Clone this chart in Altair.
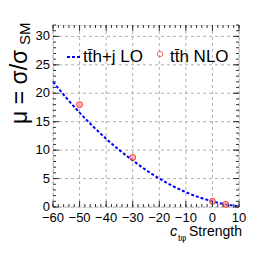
import altair as alt
import pandas as pd

# LO curve
lo_c = [-60, -55, -50, -45, -40, -35, -30, -25, -20, -15, -10, -5, 0, 5, 10]
lo_mu = [22.0, 19.2, 16.6, 14.2, 12.0, 10.0, 8.2, 6.5, 5.0, 3.7, 2.6, 1.7, 1.0, 0.45, 0.1]
# NLO points
nlo_c = [-50, -30, 0, 5]
nlo_mu = [18.0, 8.7, 1.0, 0.47]

x_major = [-60, -50, -40, -30, -20, -10, 0, 10]
x_labels = ["\u221260", "\u221250", "\u221240", "\u221230", "\u221220", "\u221210", "0", "10"]
x_minor = [-60, -58, -56, -54, -52, -50, -48, -46, -44, -42, -40, -38, -36, -34, -32, -30,
           -28, -26, -24, -22, -20, -18, -16, -14, -12, -10, -8, -6, -4, -2, 0, 2, 4, 6, 8, 10]
y_major = [0, 5, 10, 15, 20, 25, 30]
y_labels = ["0", "5", "10", "15", "20", "25", "30"]
y_minor = [0, 1, 2, 3, 4, 5, 6, 7, 8, 9, 10, 11, 12, 13, 14, 15, 16, 17, 18, 19, 20,
           21, 22, 23, 24, 25, 26, 27, 28, 29, 30, 31, 32]

W, H = 186, 182
FONT = "Liberation Sans"

xs = alt.Scale(domain=[-60, 10], nice=False, zero=False)
ys = alt.Scale(domain=[0, 32], nice=False)

lo = pd.DataFrame({"c": lo_c, "mu": lo_mu})
nlo = pd.DataFrame({"c": nlo_c, "mu": nlo_mu})
xl = pd.DataFrame({"v": x_major, "t": x_labels})
yl = pd.DataFrame({"v": y_major, "t": y_labels})

grid_col = "#b0b0b0"
xgrid = alt.Chart(xl).mark_rule(color=grid_col, strokeDash=[3, 3], strokeWidth=1).encode(
    x=alt.X("v:Q", scale=xs, axis=None), y=alt.value(0), y2=alt.value(H))
ygrid = alt.Chart(yl).mark_rule(color=grid_col, strokeDash=[3, 3], strokeWidth=1).encode(
    y=alt.Y("v:Q", scale=ys, axis=None), x=alt.value(0), x2=alt.value(W))

xlab = alt.Chart(xl).mark_text(font=FONT, fontSize=13, color="black", baseline="top",
                               align="center").encode(
    x=alt.X("v:Q", scale=xs, axis=None), y=alt.value(H + 5), text="t:N")
ylab = alt.Chart(yl).mark_text(font=FONT, fontSize=13, color="black", baseline="middle",
                               align="right").encode(
    y=alt.Y("v:Q", scale=ys, axis=None), x=alt.value(-3), text="t:N")

line = alt.Chart(lo).mark_line(color="#0000ff", strokeDash=[3, 2], strokeWidth=2,
                               interpolate="monotone").encode(
    x=alt.X("c:Q", scale=xs, axis=None), y=alt.Y("mu:Q", scale=ys, axis=None))

pts = alt.Chart(nlo).mark_point(shape="circle", size=35, color="#ff3030",
                                fill="#ff9090", fillOpacity=0.6, strokeWidth=1).encode(
    x=alt.X("c:Q", scale=xs, axis=None), y=alt.Y("mu:Q", scale=ys, axis=None))

tick_col = "#333333"
def xticks(vals, L):
    d = pd.DataFrame({"v": vals})
    b = alt.Chart(d).mark_rule(color=tick_col, strokeWidth=1)
    return (b.encode(x=alt.X("v:Q", scale=xs, axis=None), y=alt.value(H), y2=alt.value(H - L)) +
            b.encode(x=alt.X("v:Q", scale=xs, axis=None), y=alt.value(0), y2=alt.value(L)))

def yticks(vals, L):
    d = pd.DataFrame({"v": vals})
    b = alt.Chart(d).mark_rule(color=tick_col, strokeWidth=1)
    return (b.encode(y=alt.Y("v:Q", scale=ys, axis=None), x=alt.value(0), x2=alt.value(L)) +
            b.encode(y=alt.Y("v:Q", scale=ys, axis=None), x=alt.value(W), x2=alt.value(W - L)))

ticks = xticks(x_major, 6) + xticks(x_minor, 3) + yticks(y_major, 6) + yticks(y_minor, 3)

one = pd.DataFrame({"a": [0]})
def txt(s, x, y, size, **kw):
    return alt.Chart(one).mark_text(text=s, font=FONT, fontSize=size, color="black", **kw).encode(
        x=alt.value(x), y=alt.value(y))

leg_line = alt.Chart(one).mark_rule(color="#0000ff", strokeDash=[3, 2], strokeWidth=2).encode(
    x=alt.value(14), x2=alt.value(29), y=alt.value(32))
leg_pt = alt.Chart(one).mark_point(shape="circle", size=30, color="#ff3030", strokeWidth=1).encode(
    x=alt.value(107), y=alt.value(29))

texts = (
    txt("tt\u0304h+j LO", 30, 37, 17, align="left", baseline="alphabetic") +
    txt("tt\u0304h NLO", 117, 37, 17, align="left", baseline="alphabetic") +
    txt("Strength", 136, 211, 14, align="left", baseline="alphabetic") +
    txt("c", 117, 211, 14.5, align="left", baseline="alphabetic", fontStyle="italic") +
    txt("t\u03c6", 125, 216, 9, align="left", baseline="alphabetic") +
    txt("\u03bc = \u03c3/\u03c3", -26, 99, 23, align="left", baseline="alphabetic", angle=270) +
    txt("SM", -23, 20, 15, align="left", baseline="alphabetic", angle=270)
)

chart = alt.layer(xgrid, ygrid, line, pts, ticks, xlab, ylab, leg_line, leg_pt, texts).properties(
    width=W, height=H,
    autosize=alt.AutoSizeParams(type="none"),
    padding={"left": 45, "top": 17, "right": 19, "bottom": 44},
).configure_view(stroke="#444444", strokeWidth=1).configure(background="white")

chart.save("out.html", embed_options={"renderer": "svg", "actions": False})
